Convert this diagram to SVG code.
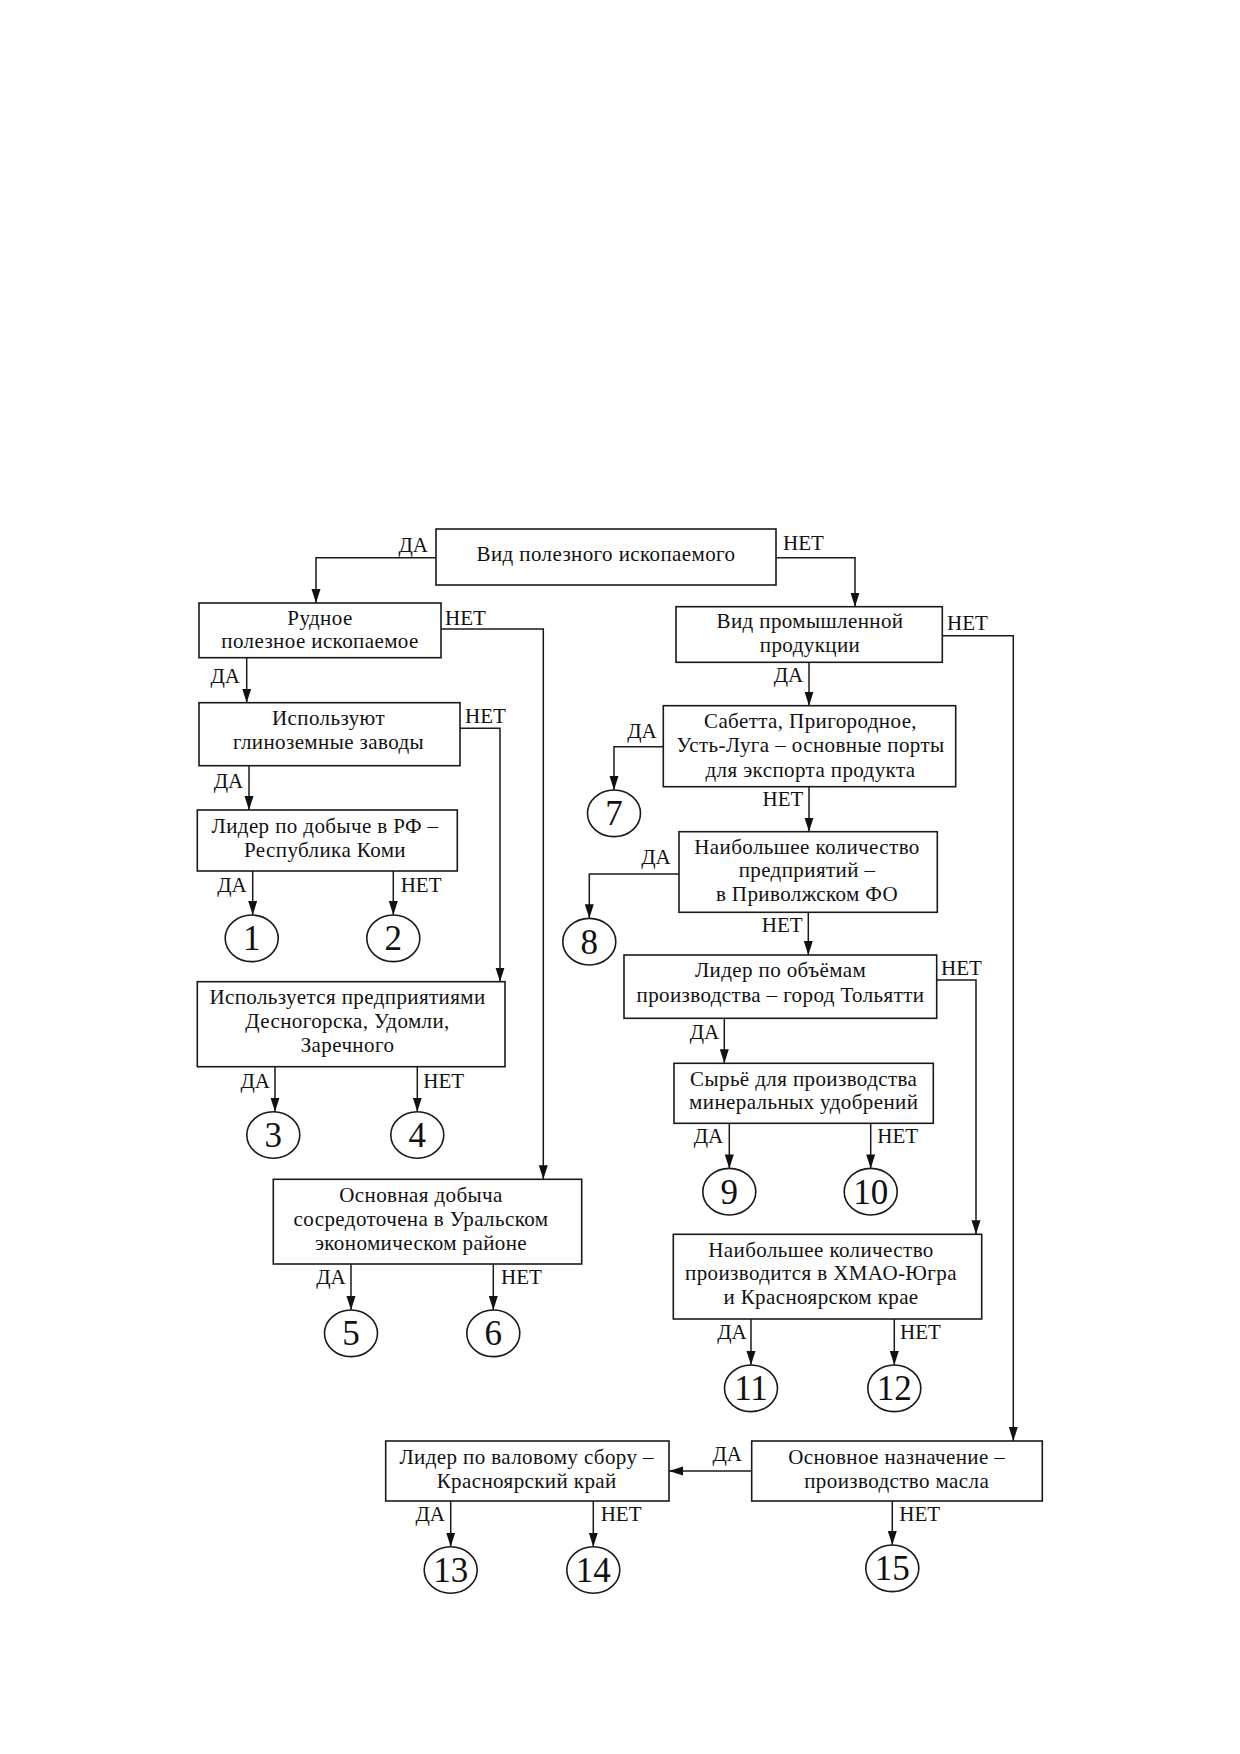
<svg xmlns="http://www.w3.org/2000/svg" width="1240" height="1754" viewBox="0 0 1240 1754">
<style>
.bg{fill:#ffffff}
.box{fill:#ffffff;stroke:#1a1a1a;stroke-width:1.6}
.circ{fill:#ffffff;stroke:#1a1a1a;stroke-width:1.6}
.t{font-family:"Liberation Serif","Times New Roman",serif;font-size:21px;letter-spacing:0.4px;fill:#111;text-anchor:middle}
.n{font-family:"Liberation Serif","Times New Roman",serif;font-size:35px;fill:#111;text-anchor:middle}
.lbl{font-family:"Liberation Serif","Times New Roman",serif;font-size:21px;fill:#111}
.e{text-anchor:end}
.c{fill:none;stroke:#1a1a1a;stroke-width:1.5;marker-end:url(#arr)}
</style>
<defs>
<marker id="arr" markerUnits="userSpaceOnUse" markerWidth="15" markerHeight="10" refX="14" refY="4.5" orient="auto">
<path d="M0,0 L14,4.5 L0,9 z" fill="#111"/>
</marker>
</defs>
<rect class="bg" x="0" y="0" width="1240" height="1754"/>

<g id="connectors">
<path class="c" d="M436,557.7 H316 V603"/>
<path class="c" d="M776,557.7 H855 V606.7"/>
<path class="c" d="M441,629 H543.3 V1179.3"/>
<path class="c" d="M246.7,657.7 V702.7"/>
<path class="c" d="M460,728.3 H500 V981.7"/>
<path class="c" d="M249,765.7 V810"/>
<path class="c" d="M942.3,635.7 H1013.3 V1441"/>
<path class="c" d="M809,662.3 V705.7"/>
<path class="c" d="M663.3,746.7 H614 V790"/>
<path class="c" d="M809,786.7 V831.7"/>
<path class="c" d="M679,874 H589.3 V918.3"/>
<path class="c" d="M808.3,912.3 V955"/>
<path class="c" d="M936.7,980 H976 V1234.3"/>
<path class="c" d="M724.3,1018.3 V1063.3"/>
<path class="c" d="M252.7,871 V915"/>
<path class="c" d="M393.3,871 V915"/>
<path class="c" d="M275,1066.7 V1111.7"/>
<path class="c" d="M417.3,1066.7 V1111.7"/>
<path class="c" d="M351,1264 V1310"/>
<path class="c" d="M493.3,1264 V1310"/>
<path class="c" d="M729.3,1123.3 V1168.4"/>
<path class="c" d="M870.7,1123.3 V1168.4"/>
<path class="c" d="M751,1319 V1365"/>
<path class="c" d="M894.3,1319 V1365"/>
<path class="c" d="M751.7,1471 H669"/>
<path class="c" d="M892.3,1501 V1545"/>
<path class="c" d="M450.7,1501 V1546.7"/>
<path class="c" d="M593.3,1501 V1546.7"/>
<text class="lbl e" x="428" y="551.7">ДА</text>
<text class="lbl" x="783" y="550">НЕТ</text>
<text class="lbl" x="445" y="625">НЕТ</text>
<text class="lbl e" x="240" y="682.7">ДА</text>
<text class="lbl" x="465" y="723.3">НЕТ</text>
<text class="lbl e" x="243.3" y="787.7">ДА</text>
<text class="lbl" x="947" y="630">НЕТ</text>
<text class="lbl e" x="803.3" y="681.7">ДА</text>
<text class="lbl e" x="656.7" y="738.3">ДА</text>
<text class="lbl e" x="803.3" y="806">НЕТ</text>
<text class="lbl e" x="670.7" y="864">ДА</text>
<text class="lbl e" x="802.7" y="931.7">НЕТ</text>
<text class="lbl" x="941" y="975">НЕТ</text>
<text class="lbl e" x="719.3" y="1039.3">ДА</text>
<text class="lbl e" x="246.7" y="891.7">ДА</text>
<text class="lbl" x="400.7" y="891.7">НЕТ</text>
<text class="lbl e" x="270" y="1088.3">ДА</text>
<text class="lbl" x="423.3" y="1088.3">НЕТ</text>
<text class="lbl e" x="345.7" y="1284">ДА</text>
<text class="lbl" x="501" y="1284">НЕТ</text>
<text class="lbl e" x="723.3" y="1143.3">ДА</text>
<text class="lbl" x="877.3" y="1143.3">НЕТ</text>
<text class="lbl e" x="746.7" y="1339">ДА</text>
<text class="lbl" x="900" y="1339">НЕТ</text>
<text class="lbl e" x="742" y="1461">ДА</text>
<text class="lbl" x="899.3" y="1521">НЕТ</text>
<text class="lbl e" x="445" y="1521">ДА</text>
<text class="lbl" x="600.7" y="1521">НЕТ</text>
</g>

<g id="n0"><rect class="box" x="436" y="529" width="340" height="56"/>
<text class="t" x="606" y="561">Вид полезного ископаемого</text></g>
<g id="n1"><rect class="box" x="199" y="603" width="242" height="54.7"/>
<text class="t" x="320" y="625">Рудное</text><text class="t" x="320" y="648.3">полезное ископаемое</text></g>
<g id="n2"><rect class="box" x="676" y="606.7" width="266.3" height="55.6"/>
<text class="t" x="810" y="628.3">Вид промышленной</text><text class="t" x="810" y="651.7">продукции</text></g>
<g id="n3"><rect class="box" x="199" y="702.7" width="261" height="63"/>
<text class="t" x="328.5" y="725">Используют</text><text class="t" x="328.5" y="749.3">глиноземные заводы</text></g>
<g id="n4"><rect class="box" x="663.3" y="705.7" width="292.4" height="81"/>
<text class="t" x="810.5" y="728.3">Сабетта, Пригородное,</text><text class="t" x="810.5" y="752.3">Усть-Луга – основные порты</text><text class="t" x="810.5" y="776.7">для экспорта продукта</text></g>
<g id="n5"><rect class="box" x="197.3" y="810" width="260" height="61"/>
<text class="t" x="325" y="833.3">Лидер по добыче в РФ –</text><text class="t" x="325" y="856.7">Республика Коми</text></g>
<g id="n6"><rect class="box" x="679" y="831.7" width="258.3" height="80.6"/>
<text class="t" x="807" y="854">Наибольшее количество</text><text class="t" x="807" y="877.3">предприятий –</text><text class="t" x="807" y="901">в Приволжском ФО</text></g>
<g id="n7"><rect class="box" x="624" y="955" width="312.7" height="63.3"/>
<text class="t" x="780.5" y="977.3">Лидер по объёмам</text><text class="t" x="780.5" y="1001.7">производства – город Тольятти</text></g>
<g id="n8"><rect class="box" x="197.3" y="981.7" width="307.7" height="85"/>
<text class="t" x="347.5" y="1004">Используется предприятиями</text><text class="t" x="347.5" y="1028.3">Десногорска, Удомли,</text><text class="t" x="347.5" y="1051.7">Заречного</text></g>
<g id="n9"><rect class="box" x="674" y="1063.3" width="259.3" height="60"/>
<text class="t" x="803.7" y="1086">Сырьё для производства</text><text class="t" x="803.7" y="1109.3">минеральных удобрений</text></g>
<g id="n10"><rect class="box" x="273.3" y="1179.3" width="308.4" height="84.7"/>
<text class="t" x="421" y="1201.7">Основная добыча</text><text class="t" x="421" y="1225.7">сосредоточена в Уральском</text><text class="t" x="421" y="1250">экономическом районе</text></g>
<g id="n11"><rect class="box" x="673.3" y="1234.3" width="308.4" height="84.7"/>
<text class="t" x="821" y="1256.7">Наибольшее количество</text><text class="t" x="821" y="1280">производится в ХМАО-Югра</text><text class="t" x="821" y="1304">и Красноярском крае</text></g>
<g id="n12"><rect class="box" x="751.7" y="1441" width="290.6" height="60"/>
<text class="t" x="896.7" y="1464">Основное назначение –</text><text class="t" x="896.7" y="1488.3">производство масла</text></g>
<g id="n13"><rect class="box" x="385.7" y="1441" width="283.3" height="60"/>
<text class="t" x="526.7" y="1464">Лидер по валовому сбору –</text><text class="t" x="526.7" y="1488.3">Красноярский край</text></g>

<g id="c1"><ellipse class="circ" cx="251.7" cy="938.3" rx="26.5" ry="23.3"/><text class="n" x="251.7" y="950.3">1</text></g>
<g id="c2"><ellipse class="circ" cx="393.3" cy="938.3" rx="26.5" ry="23.3"/><text class="n" x="393.3" y="950.3">2</text></g>
<g id="c3"><ellipse class="circ" cx="273.3" cy="1135" rx="26.5" ry="23.3"/><text class="n" x="273.3" y="1147">3</text></g>
<g id="c4"><ellipse class="circ" cx="417.3" cy="1135" rx="26.5" ry="23.3"/><text class="n" x="417.3" y="1147">4</text></g>
<g id="c5"><ellipse class="circ" cx="351" cy="1333.3" rx="26.5" ry="23.3"/><text class="n" x="351" y="1345.3">5</text></g>
<g id="c6"><ellipse class="circ" cx="493.3" cy="1333.3" rx="26.5" ry="23.3"/><text class="n" x="493.3" y="1345.3">6</text></g>
<g id="c7"><ellipse class="circ" cx="614" cy="813.3" rx="26.5" ry="23.3"/><text class="n" x="614" y="825.3">7</text></g>
<g id="c8"><ellipse class="circ" cx="589.3" cy="941.7" rx="26.5" ry="23.3"/><text class="n" x="589.3" y="953.7">8</text></g>
<g id="c9"><ellipse class="circ" cx="729.3" cy="1191.7" rx="26.5" ry="23.3"/><text class="n" x="729.3" y="1203.7">9</text></g>
<g id="c10"><ellipse class="circ" cx="870.7" cy="1191.7" rx="26.5" ry="23.3"/><text class="n" x="870.7" y="1203.7">10</text></g>
<g id="c11"><ellipse class="circ" cx="751" cy="1388.3" rx="26.5" ry="23.3"/><text class="n" x="751" y="1400.3">11</text></g>
<g id="c12"><ellipse class="circ" cx="894.3" cy="1388.3" rx="26.5" ry="23.3"/><text class="n" x="894.3" y="1400.3">12</text></g>
<g id="c13"><ellipse class="circ" cx="450.7" cy="1570" rx="26.5" ry="23.3"/><text class="n" x="450.7" y="1582">13</text></g>
<g id="c14"><ellipse class="circ" cx="593.3" cy="1570" rx="26.5" ry="23.3"/><text class="n" x="593.3" y="1582">14</text></g>
<g id="c15"><ellipse class="circ" cx="892.3" cy="1568.3" rx="26.5" ry="23.3"/><text class="n" x="892.3" y="1580.3">15</text></g>
</svg>
